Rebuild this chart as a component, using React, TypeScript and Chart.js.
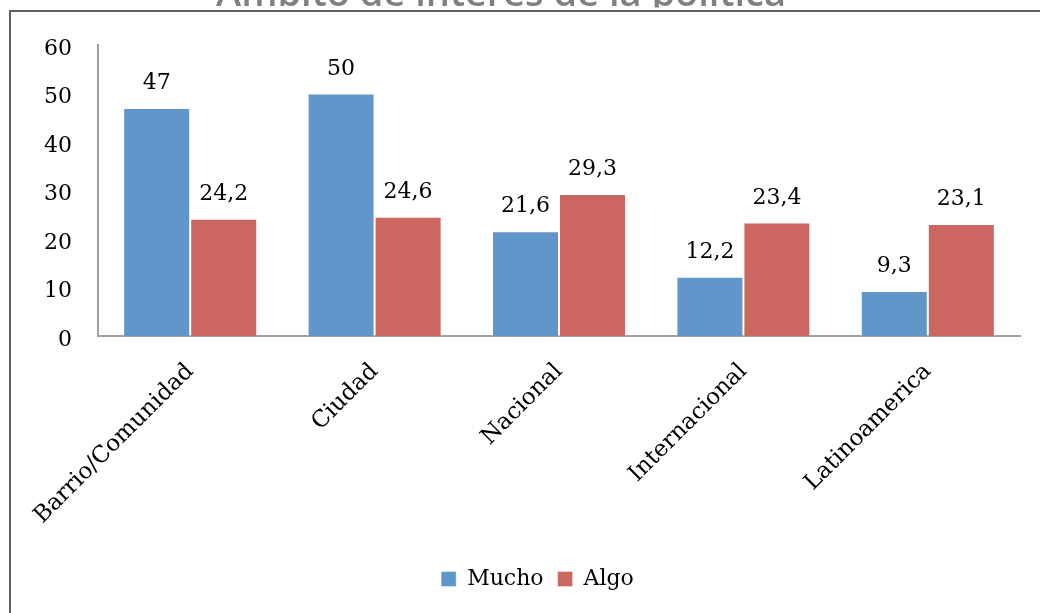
import React, { useEffect, useRef } from "react";
import { Chart, registerables } from "chart.js";

Chart.register(...registerables);

// Chart content
const TITLE = "Ámbito de interés de la política";
const categories = ["Barrio/Comunidad", "Ciudad", "Nacional", "Internacional", "Latinoamerica"];
const mucho = [47, 50, 21.6, 12.2, 9.3];
const algo = [24.2, 24.6, 29.3, 23.4, 23.1];
const seriesNames = ["Mucho", "Algo"];
const yTicks = { min: 0, max: 60, step: 10 };

const SERIF = "'DejaVu Serif', serif";
const FONT_SIZE = 22;
const CAT_FONT_SIZE = 23;
const CANVAS_W = 1040;
const CANVAS_H = 653;
const SHIFT = 40; // canvas is raised so the title sits partly above the page
const AXIS_LEFT = 98;
const PLOT_TOP = 85;
const PLOT_BOTTOM = 376;
const PAD_RIGHT = 20;
const PAD_BOTTOM = 13;
const LEGEND_SHIFT = 27.5; // legend is centred under the frame rather than the canvas

const fmt = (v: number) => String(v).replace(".", ",");

// Title text, cut off along the top band of the chart frame
const clippedTitle = {
  id: "clippedTitle",
  afterDraw(chart: any) {
    const ctx = chart.ctx;
    ctx.save();
    ctx.beginPath();
    ctx.rect(0, 0, chart.width, SHIFT + 7.5);
    ctx.clip();
    ctx.font = `600 38px 'Open Sans', sans-serif`;
    ctx.fillStyle = "#808080";
    ctx.textAlign = "center";
    ctx.textBaseline = "alphabetic";
    ctx.fillText(TITLE, 501, SHIFT + 5.5);
    ctx.restore();
  },
};

// Moves the legend block sideways once the layout is done
const legendOffset = {
  id: "legendOffset",
  afterLayout(chart: any) {
    const lg = chart.legend;
    if (lg) {
      lg.left += LEGEND_SHIFT;
      lg.right += LEGEND_SHIFT;
    }
  },
};

// Writes each bar's value above it
const valueLabels = {
  id: "valueLabels",
  afterDatasetsDraw(chart: any) {
    const ctx = chart.ctx;
    ctx.save();
    ctx.font = `${FONT_SIZE}px ${SERIF}`;
    ctx.fillStyle = "#000";
    ctx.textAlign = "center";
    ctx.textBaseline = "alphabetic";
    chart.data.datasets.forEach((ds: any, i: number) => {
      const meta = chart.getDatasetMeta(i);
      meta.data.forEach((bar: any, j: number) => {
        ctx.fillText(fmt(ds.data[j]), bar.x, bar.y - 19);
      });
    });
    ctx.restore();
  },
};

export default function App() {
  const ref = useRef<HTMLCanvasElement>(null);

  useEffect(() => {
    if (!ref.current) return;
    const chart = new Chart(ref.current, {
      type: "bar",
      data: {
        labels: categories,
        datasets: [
          {
            label: seriesNames[0],
            data: mucho,
            backgroundColor: "#6096ca",
            borderColor: "rgba(255,255,255,0.4)",
            borderWidth: 1,
          },
          {
            label: seriesNames[1],
            data: algo,
            backgroundColor: "#cc6661",
            borderColor: "rgba(255,255,255,0.4)",
            borderWidth: 1,
          },
        ],
      },
      options: {
        animation: false,
        responsive: false,
        devicePixelRatio: 1,
        layout: { padding: { left: 0, right: PAD_RIGHT, top: PLOT_TOP, bottom: PAD_BOTTOM } },
        datasets: {
          bar: { categoryPercentage: 0.727, barPercentage: 1 },
        },
        plugins: {
          title: { display: false },
          legend: {
            position: "bottom",
            labels: {
              boxWidth: 15,
              boxHeight: 15,
              color: "#000",
              padding: 14,
              font: { family: SERIF, size: FONT_SIZE },
            },
          },
          tooltip: { enabled: false },
        },
        scales: {
          x: {
            grid: { display: false, drawTicks: false },
            border: { display: true, color: "#a0a0a0", width: 2 },
            ticks: {
              color: "#000",
              font: { family: SERIF, size: CAT_FONT_SIZE },
              minRotation: 45,
              maxRotation: 45,
              padding: 22,
            },
            afterFit: (scale: any) => {
              const legendH = scale.chart.legend ? scale.chart.legend.height : 0;
              scale.height = CANVAS_H - PAD_BOTTOM - legendH - PLOT_BOTTOM;
            },
          },
          y: {
            min: yTicks.min,
            max: yTicks.max,
            grid: { display: false, drawTicks: false },
            border: { display: true, color: "#a0a0a0", width: 2 },
            ticks: {
              stepSize: yTicks.step,
              color: "#000",
              font: { family: SERIF, size: FONT_SIZE },
              padding: 26,
              labelOffset: 4,
            },
            afterFit: (scale: any) => {
              scale.width = AXIS_LEFT;
            },
          },
        },
      },
      plugins: [valueLabels, clippedTitle, legendOffset],
    });
    return () => chart.destroy();
  }, []);

  return (
    <div
      style={{
        position: "fixed",
        left: 0,
        top: 0,
        width: CANVAS_W,
        height: 613,
        overflow: "hidden",
        background: "#fff",
      }}
    >
      <canvas
        ref={ref}
        width={CANVAS_W}
        height={CANVAS_H}
        style={{ position: "absolute", left: 0, top: -SHIFT, width: CANVAS_W, height: CANVAS_H }}
      />
      <div
        style={{
          position: "absolute",
          left: 9,
          top: 10,
          width: CANVAS_W,
          height: 613,
          borderLeft: "2px solid #606060",
          borderTop: "2px solid #606060",
          pointerEvents: "none",
        }}
      />
    </div>
  );
}
